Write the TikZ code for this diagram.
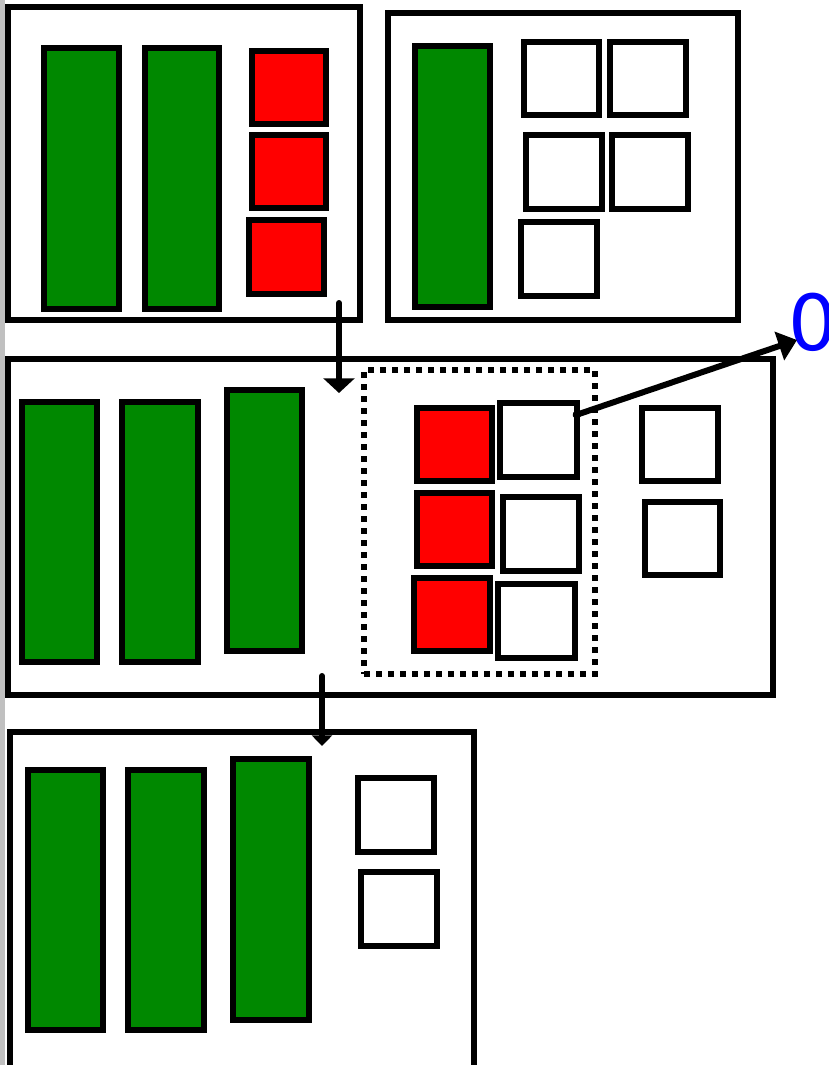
\documentclass[tikz,border=0pt]{standalone}
\usepackage{fontspec}
\newfontfamily\labelfont{DejaVu Sans}
\usetikzlibrary{arrows.meta}
\definecolor{bargreen}{RGB}{0,136,0}
\definecolor{boxred}{RGB}{255,0,0}
\definecolor{lblue}{RGB}{0,0,255}
\definecolor{edgegray}{RGB}{192,192,192}
\tikzset{
  frame/.style={draw=black,line width=4.5pt,fill=white},
  gbar/.style={draw=black,line width=4.5pt,fill=bargreen},
  rsq/.style={draw=black,line width=4.5pt,fill=boxred},
  wsq/.style={draw=black,line width=4.5pt,fill=white},
  dotbox/.style={draw=black,line width=4.5pt,dash pattern=on 4.5pt off 4.5pt},
  flow/.style={line width=4.5pt,line cap=round},
}
\newcommand{\bx}[6]{\node[#1,inner sep=0pt,outer sep=0pt,anchor=north west,
  minimum width={(#5-#3)*0.75pt},minimum height={(#6-#4)*0.75pt}] (#2) at (#3,#4) {};}
\begin{document}
\begin{tikzpicture}[x=0.75pt,y=-0.75pt]
\useasboundingbox (0,0) rectangle (829,1065);
\clip (0,0) rectangle (829,1065);
\fill[edgegray] (0,0) rectangle (4.5,1065);
% top-left box
\bx{frame}{A}{8}{7}{360}{320}
\bx{gbar}{A1}{44}{48}{119}{309}
\bx{gbar}{A2}{145}{48}{219}{309}
\bx{rsq}{A3}{252}{51}{326}{124}
\bx{rsq}{A4}{252}{135}{326}{208}
\bx{rsq}{A5}{249}{220}{324}{294}
% top-right box
\bx{frame}{B}{388}{13}{738}{320}
\bx{gbar}{B1}{415}{46}{490}{307}
\bx{wsq}{B2}{524}{42}{599}{115}
\bx{wsq}{B3}{610}{42}{686}{115}
\bx{wsq}{B4}{526}{135}{602}{209}
\bx{wsq}{B5}{612}{135}{688}{209}
\bx{wsq}{B6}{521}{222}{597}{296}
% middle box
\bx{frame}{C}{8}{359}{773}{695}
\bx{gbar}{C1}{22}{402}{97}{662}
\bx{gbar}{C2}{122}{402}{198}{662}
\bx{gbar}{C3}{227}{390}{302}{651}
\bx{dotbox}{CD}{364}{370}{595}{674}
\bx{rsq}{C4}{417}{408}{492}{481}
\bx{rsq}{C5}{417}{493}{492}{566}
\bx{rsq}{C6}{414}{578}{490}{651}
\bx{wsq}{C7}{500}{403}{577}{477}
\bx{wsq}{C8}{503}{497}{579}{571}
\bx{wsq}{C9}{498}{584}{575}{658}
\bx{wsq}{C10}{642}{408}{718}{481}
\bx{wsq}{C11}{645}{502}{720}{575}
% bottom box
\bx{frame}{D}{10}{732}{474}{1080}
\bx{gbar}{D1}{28}{770}{103}{1030}
\bx{gbar}{D2}{128}{770}{204}{1030}
\bx{gbar}{D3}{233}{759}{309}{1020}
\bx{wsq}{D4}{358}{778}{434}{852}
\bx{wsq}{D5}{361}{872}{437}{946}
% label
\node[anchor=base west,inner sep=0pt,text=lblue,font=\labelfont\fontsize{58pt}{60pt}\selectfont] (zero) at (788,350) {0};
% connectors
\coordinate (a1s) at (339,303);
\coordinate (a1e) at (339,393);
\coordinate (a2s) at (322,676);
\coordinate (a2e) at (322,746);
\coordinate (a3s) at (573,416);
\coordinate (a3e) at (797,340);
\draw[flow,-{Triangle[width=23pt,length=11pt]}] (a1s) -- (a1e);
\draw[flow,-{Triangle[width=15pt,length=8pt]}] (a2s) -- (a2e);
\draw[flow,{Circle[length=6pt]}-{Triangle[width=22pt,length=14pt]}] (a3s) -- (a3e);
\end{tikzpicture}
\end{document}
